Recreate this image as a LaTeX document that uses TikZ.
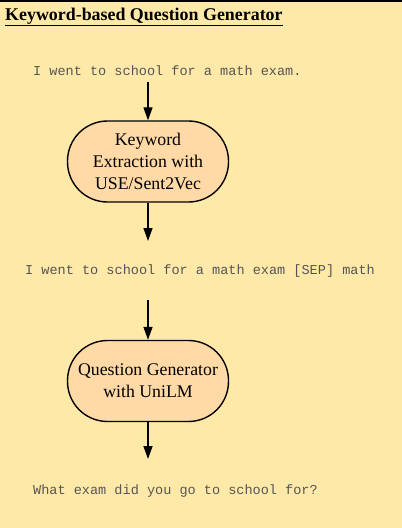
\documentclass[tikz,border=0pt]{standalone}
\usepackage{fontspec}
\setmainfont{Liberation Serif}
\setmonofont{Liberation Mono}
\usepackage{tikz}
\usetikzlibrary{arrows.meta}

\definecolor{bgyellow}{HTML}{FFE9A8}
\definecolor{boxpeach}{HTML}{FFD9A6}
\definecolor{textgray}{HTML}{555555}

\tikzset{
	stagebox/.style={draw, line width=1.4pt, fill=boxpeach, rounded corners=40pt,
		minimum width=161pt, minimum height=81pt, align=center,
		font=\fontsize{17.8}{22}\selectfont},
	sentence/.style={anchor=west, inner sep=0pt, text=textgray,
		font=\ttfamily\fontsize{13.55}{16}\selectfont},
	flow/.style={line width=1.3pt, -{Triangle[length=13pt,width=9pt]}}
}

\begin{document}
\begin{tikzpicture}[x=1pt, y=-1pt]
	\fill[bgyellow] (0,0) rectangle (402,528);
	\useasboundingbox (0,0) rectangle (402,528);
	\draw[line width=2pt] (0,1) -- (402,1);
	\node[anchor=base west, inner sep=0pt, font=\bfseries\fontsize{17.9}{20}\selectfont] (title) at (5,20) {\underline{Keyword-based Question Generator}};
	\node[sentence] (s1) at (33,71) {I went to school for a math exam.};
	\node[stagebox] (b1) at (148,161.5) {Keyword\\Extraction with\\USE/Sent2Vec};
	\node[sentence] (s2) at (25,271) {I went to school for a math exam [SEP] math};
	\node[stagebox] (b2) at (148,381) {Question Generator\\with UniLM};
	\node[sentence] (s3) at (33,491) {What exam did you go to school for?};
	\coordinate (a1) at (148,82);
	\coordinate (a2) at (148,241);
	\coordinate (a3) at (148,300);
	\coordinate (a4) at (148,459);
	\draw[flow] (a1) -- (b1.north);
	\draw[flow] (b1.south) -- (a2);
	\draw[flow] (a3) -- (b2.north);
	\draw[flow] (b2.south) -- (a4);
\end{tikzpicture}
\end{document}
